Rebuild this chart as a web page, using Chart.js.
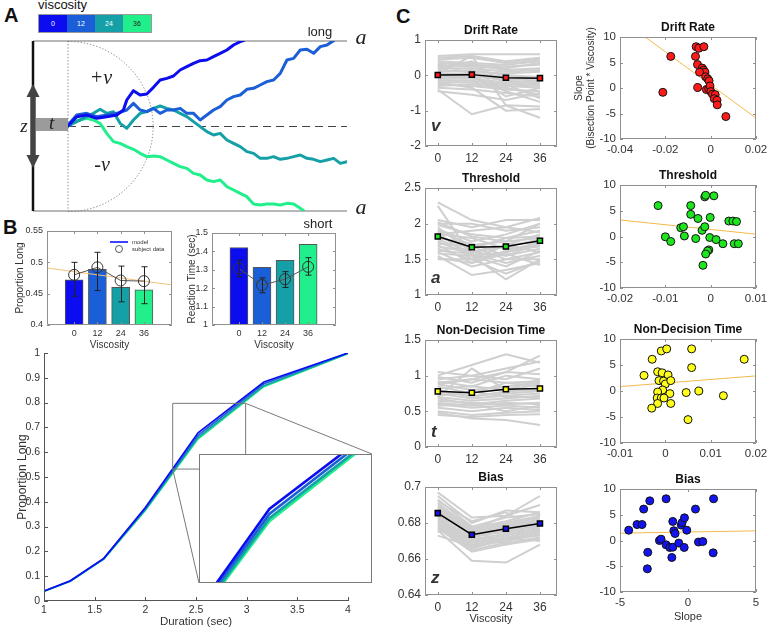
<!DOCTYPE html>
<html><head><meta charset="utf-8">
<script src="https://cdn.jsdelivr.net/npm/chart.js@4.4.0/dist/chart.umd.min.js"></script>
<style>
body{margin:0;background:#fff;}
#fig{position:relative;width:769px;height:633px;overflow:hidden;font-family:"Liberation Sans",Arial,Helvetica,sans-serif;color:#111;}
#fig canvas{position:absolute;}
.plet{position:absolute;font-weight:bold;font-size:20px;line-height:20px;}
#vlab{position:absolute;left:38px;top:-2px;font-size:13px;line-height:14px;}
#vbar{position:absolute;left:38px;top:14px;width:114px;height:19px;display:flex;border:1px solid #999;box-sizing:border-box;}
#vbar div{flex:1;font-size:7px;display:flex;align-items:center;justify-content:center;}
</style></head>
<body><div id="fig">
<div class="plet" style="left:4px;top:5px;">A</div>
<div class="plet" style="left:3px;top:217px;">B</div>
<div class="plet" style="left:396px;top:6px;">C</div>
<div id="vlab">viscosity</div>
<div id="vbar"></div>
</div>
<script>
// ================= DATA =================
const viscosity = [0, 12, 24, 36];
const viscosityColors = ['#0c0cf0', '#1b5fd8', '#14a0a6', '#20ef8c'];

// Panel A: example evidence-accumulation paths (time units, evidence units)
const boundary = 255;
const walkT0  = [0,26,56,86,116,146,166,176,196,216,236,256,276,296,316,336,356,376,396,416,436,456,476,496,516,526];
const walkE0  = [0,28,33,23,28,33,48,78,106,93,96,116,138,143,150,168,178,188,196,198,208,218,228,243,253,256];
const walkT12 = [0,26,56,86,116,146,176,196,216,236,256,276,296,316,336,356,376,396,416,436,456,476,496,516,536,556,576,596,616,636,656,676,696,716,736,756,776,796];
const walkE12 = [3,33,38,28,33,38,48,68,48,43,53,38,48,48,53,38,38,18,33,48,58,78,88,93,110,113,123,133,138,158,198,203,228,230,218,238,243,256];
const walkT24 = [0,26,56,76,96,116,136,156,176,196,216,236,256,276,296,316,336,356,376,396,416,436,456,476,496,516,536,556,576,596,616,636,656,676,696,716,736,756,776,796,816,836,841];
const walkE24 = [0,13,28,38,50,38,43,8,-7,18,38,43,53,60,53,48,38,28,13,-2,-17,-27,-22,-42,-52,-62,-77,-82,-97,-97,-92,-100,-97,-92,-87,-97,-100,-107,-102,-97,-112,-107,-104];
const walkT36 = [0,26,56,76,96,116,136,156,176,196,216,236,256,276,296,316,336,356,376,396,416,436,456,476,496,516,536,556,576,596,616,636,656,676,696,706];
const walkE36 = [0,16,23,18,8,-22,-47,-52,-62,-70,-82,-92,-90,-92,-102,-112,-122,-127,-142,-147,-162,-167,-162,-182,-192,-202,-212,-234,-237,-234,-234,-237,-232,-234,-247,-254];

// Panel B: proportion long & reaction time by viscosity
const propModel    = [0.472, 0.489, 0.460, 0.456];
const propSubject  = [0.480, 0.492, 0.471, 0.470];
const propErrLow   = [0.446, 0.455, 0.437, 0.434];
const propErrHigh  = [0.500, 0.516, 0.494, 0.493];
const propFit      = {slope: -0.000419, intercept: 0.4851};
const propTicks    = [0.4, 0.45, 0.5, 0.55];
const rtModel      = [1.421, 1.313, 1.352, 1.439];
const rtSubject    = [1.307, 1.217, 1.249, 1.316];
const rtErrLow     = [1.262, 1.175, 1.204, 1.271];
const rtErrHigh    = [1.352, 1.256, 1.290, 1.366];
const rtTicks      = [1, 1.1, 1.2, 1.3, 1.4, 1.5];

// Panel B: psychometric functions
const durations = [1, 1.26, 1.59, 2.0, 2.52, 3.17, 4.0];
const pLong0  = [0.040, 0.082, 0.172, 0.377, 0.678, 0.883, 1.000];
const pLong12 = [0.040, 0.081, 0.171, 0.373, 0.668, 0.876, 1.000];
const pLong24 = [0.039, 0.080, 0.170, 0.368, 0.659, 0.868, 0.998];
const pLong36 = [0.038, 0.079, 0.169, 0.365, 0.653, 0.864, 0.997];
const durTicks = [1, 1.5, 2, 2.5, 3, 3.5, 4];
const pTicks = [0, 0.1, 0.2, 0.3, 0.4, 0.5, 0.6, 0.7, 0.8, 0.9, 1];
const zoomRegion = {x: [2.27, 2.99], y: [0.532, 0.797]};
const insetRange = {x: [2.17, 3.03], y: [0.526, 0.791]};

// Panel C: per-subject parameters by viscosity (0,12,24,36)
const driftSubjects = [[0.55,0.6,0.6,0.6],[0.5,0.55,0.4,0.5],[0.45,0.5,0.35,0.45],[0.4,0.35,0.3,0.4],[0.35,0.3,0.25,0.3],[0.3,0.25,0.2,0.35],[0.25,0.3,0.15,0.2],[0.2,0.2,0.1,0.15],[0.15,0.1,0.05,0.1],[0.1,0.15,0.0,-0.05],[0.05,0.05,-0.05,-0.1],[0.0,-0.05,-0.1,-0.15],[-0.05,0.0,-0.15,-0.2],[-0.1,-0.1,-0.2,-0.25],[-0.15,-0.15,-0.25,-0.3],[-0.2,-0.2,-0.3,-0.35],[-0.25,-0.3,-0.4,-0.45],[-0.3,-0.25,-0.35,-0.55],[-0.35,-0.4,-0.5,-0.6],[-0.4,-1.1,-0.85,-0.88],[-0.45,-0.55,-0.7,-0.5],[0.05,0.55,-0.85,-1.2],[-0.2,-0.35,-1.0,-0.95],[0.3,0.05,-0.6,-0.35],[0.2,0.4,-0.25,-0.65],[-0.1,-0.05,-0.45,-0.75]];
const driftMean = [0.01, 0.02, -0.07, -0.08];
const driftTicks = [-2, -1, 0, 1];
const thresholdSubjects = [[2.3,2.05,1.95,2.08],[2.25,1.55,1.22,1.5],[2.05,1.95,2.05,2.05],[2.0,2.0,1.9,1.95],[1.98,1.85,1.8,1.9],[1.95,1.6,1.7,1.85],[1.92,1.75,1.85,2.0],[1.9,1.7,1.75,1.8],[1.88,1.5,1.6,1.75],[1.85,1.8,1.65,1.7],[1.82,1.65,1.8,1.82],[1.8,1.72,1.55,1.65],[1.78,1.6,1.68,1.78],[1.75,1.55,1.6,1.7],[1.72,1.68,1.5,1.6],[1.7,1.45,1.62,1.68],[1.68,1.6,1.55,1.72],[1.65,1.5,1.7,1.6],[1.62,1.58,1.45,1.55],[1.6,1.4,1.5,1.5],[1.58,1.55,1.4,1.62],[1.55,1.28,1.35,1.45],[1.52,1.45,1.58,1.42],[1.5,1.5,1.3,1.48],[1.85,1.9,1.95,1.88],[2.02,1.82,1.75,2.0]];
const thresholdMean = [1.82, 1.67, 1.68, 1.76];
const thresholdTicks = [1, 1.5, 2, 2.5];
const ndtSubjects = [[1.05,1.0,1.1,1.2],[1.0,1.15,1.3,1.18],[0.98,0.9,1.05,1.28],[0.95,1.0,0.95,1.1],[0.92,0.85,1.0,0.95],[0.9,0.95,0.9,0.92],[0.88,0.8,0.85,0.9],[0.85,0.75,0.9,0.85],[0.82,0.85,0.8,0.88],[0.8,0.7,0.78,0.8],[0.78,0.72,0.75,0.78],[0.75,0.68,0.72,0.75],[0.72,0.78,0.7,0.7],[0.7,0.65,0.68,0.72],[0.68,0.6,0.65,0.68],[0.65,0.62,0.6,0.62],[0.62,0.58,0.62,0.6],[0.6,0.55,0.58,0.55],[0.58,0.6,0.5,0.58],[0.55,0.5,0.55,0.52],[0.5,0.45,0.48,0.5],[0.45,0.42,0.45,0.46],[0.48,0.4,0.38,0.31],[0.88,0.95,1.05,1.02],[0.7,1.1,0.8,0.95]];
const ndtMean = [0.78, 0.76, 0.81, 0.82];
const ndtTicks = [0, 0.5, 1, 1.5];
const biasSubjects = [[0.697,0.683,0.684,0.695],[0.695,0.68,0.687,0.686],[0.693,0.678,0.683,0.685],[0.691,0.677,0.681,0.686],[0.69,0.676,0.68,0.684],[0.689,0.675,0.679,0.683],[0.688,0.674,0.678,0.682],[0.687,0.673,0.677,0.681],[0.686,0.672,0.676,0.68],[0.685,0.673,0.675,0.679],[0.684,0.671,0.674,0.678],[0.683,0.67,0.673,0.677],[0.682,0.669,0.672,0.676],[0.681,0.668,0.671,0.675],[0.68,0.667,0.67,0.674],[0.679,0.666,0.671,0.673],[0.678,0.665,0.669,0.672],[0.677,0.664,0.668,0.671],[0.676,0.659,0.658,0.668],[0.673,0.667,0.672,0.67],[0.675,0.677,0.668,0.685],[0.692,0.681,0.686,0.675],[0.684,0.676,0.684,0.69]];
const biasMean = [0.6855, 0.6735, 0.6768, 0.6797];
const biasTicks = [0.64, 0.66, 0.68, 0.7];

// Panel C: slope (bisection point * viscosity) vs parameter slope
const slopeTicksY = [-10, -5, 0, 5, 10];
const driftSlopeX = [-0.0176,-0.0211,-0.0064,-0.0052,-0.003,-0.0067,-0.0058,-0.0037,-0.0031,-0.0025,-0.0049,-0.0022,-0.0013,-0.0007,-0.0057,-0.0019,-0.0009,-0.0003,0.0001,0.0008,0.002,0.0016,0.0028,0.0029,0.0067];
const driftSlopeY = [6.2,-0.85,8.1,7.8,8.1,6.2,4.6,3.9,3.5,3.1,3.1,2.2,1.8,1.4,0.1,-0.3,-0.1,0.4,-0.7,-1.2,-1.3,-2.1,-2.4,-3.3,-5.6];
const driftFit = {slope: -325, intercept: 0.61};
const driftSlopeTicks = [-0.04, -0.02, 0, 0.02];
const thresholdSlopeX = [-0.0116,-0.01,-0.0088,-0.0044,-0.0044,-0.0058,-0.0066,-0.006,-0.0028,-0.0033,-0.0019,-0.0013,-0.0013,-0.0011,0.0007,-0.0001,-0.0002,-0.0004,-0.0007,-0.0011,-0.0017,0.0012,0.0027,0.004,0.0049,0.0057,0.0052,0.0061];
const thresholdSlopeY = [6.0,-0.06,-0.97,6.0,4.3,0.1,1.7,1.9,3.5,-0.4,1.2,1.9,7.7,8.0,7.9,3.7,-0.2,-2.6,-2.8,-3.4,-5.6,-0.6,-1.4,3.0,3.0,2.9,-1.4,-1.4];
const thresholdFit = {slope: -91.7, intercept: 1.37};
const thresholdSlopeTicks = [-0.02, -0.01, 0, 0.01];
const ndtSlopeX = [-0.0047,-0.0029,-0.0009,0.0003,-0.0017,-0.0007,0.0006,-0.0014,-0.0004,0.0,0.0012,-0.0006,-0.0017,0.001,-0.0018,-0.0009,-0.0003,-0.0017,0.0012,-0.003,0.0058,0.0058,0.0046,0.0074,0.005,0.0128,0.0174];
const ndtSlopeY = [3.0,6.1,7.7,8.1,3.7,3.5,3.1,2.0,1.9,1.35,2.0,0.2,-0.2,-0.5,-1.35,-1.35,-1.35,-2.4,-2.4,-3.3,8.1,4.5,-0.3,0.0,-5.5,-0.9,6.1];
const ndtFit = {slope: 68.7, intercept: 1.53};
const ndtSlopeTicks = [-0.01, 0, 0.01, 0.02];
const biasSlopeX = [-4.36,-3.75,-3.38,-3.26,-2.81,-2.96,-2.99,-2.1,-1.98,-1.61,-1.61,-1.34,-1.12,-1.04,-0.95,-1.12,-1.19,-0.68,-0.5,-0.43,-0.26,-0.28,-0.09,0.55,0.77,1.09,1.88,1.85];
const biasSlopeY = [2.0,3.1,3.1,6.1,7.7,-2.3,-5.5,0.0,0.26,8.1,-0.84,-1.35,3.7,1.9,1.35,-1.3,-3.3,-0.5,3.0,3.5,4.4,-1.35,2.0,6.1,-0.3,-0.2,8.1,-2.4];
const biasFit = {slope: 0.045, intercept: 1.65};
const biasSlopeTicks = [-5, 0, 5];

// ================= LAYOUT (pixels) =================
const L = {
  A: {l:33, t:41, r:347, b:211},
  bar1: {l:47, t:231, r:172, b:325},
  bar2: {l:212, t:233, r:336, b:325},
  psy: {l:44, t:353, r:348, b:601},
  inset: {l:199, t:454, r:372, b:583},
  cl: {l:425, r:557, t:[40,188,340,487], b:[146,295,447,595]},
  cr: {l:620, r:756, t:[37,185,339,489], b:[139,288,443,592]}
};

// ================= HELPERS =================
const FONT = '"Liberation Sans", Arial, Helvetica, sans-serif';
Chart.defaults.font.family = FONT;
Chart.defaults.color = '#333';
const fig = document.getElementById('fig');
const fmt = v => String(Math.round(v * 1e6) / 1e6);
const xy = (xs, ys) => xs.map((x, i) => ({x, y: ys[i]}));
const fitLine = (f, x0, x1) => [{x:x0, y:f.intercept + f.slope*x0}, {x:x1, y:f.intercept + f.slope*x1}];

// legend bar (viscosity)
const vbar = document.getElementById('vbar');
viscosity.forEach((v, i) => {
  const d = document.createElement('div');
  d.style.background = viscosityColors[i];
  d.style.color = i === 3 ? '#222' : '#fff';
  d.textContent = v;
  vbar.appendChild(d);
});

function makeCanvas(x, y, w, h) {
  const c = document.createElement('canvas');
  c.width = w; c.height = h;
  Object.assign(c.style, {left: x + 'px', top: y + 'px', width: w + 'px', height: h + 'px'});
  fig.appendChild(c);
  return c;
}
function linAxis(min, max, tickVals, o) {
  const ax = {type: 'linear', min, max, offset: false,
    afterBuildTicks: s => { s.ticks = tickVals.map(v => ({value: v})); },
    ticks: {callback: v => fmt(v), font: {size: o.size}, color: '#333', padding: o.pad, autoSkip: false, maxRotation: 0, minRotation: 0},
    grid: {display: false, drawTicks: false}, border: {display: false}};
  if (o.title) ax.title = {display: true, text: o.title, font: {size: o.tsize}, color: '#333', padding: {top: o.tpad, bottom: o.tpad}};
  return ax;
}
function framed(plot, pad, cfg) {
  const W = plot.r - plot.l + pad.l + pad.r, H = plot.b - plot.t + pad.t + pad.b;
  const cv = makeCanvas(plot.l - pad.l, plot.t - pad.t, W, H);
  const o = cfg.options;
  o.responsive = false; o.animation = false; o.maintainAspectRatio = false;
  o.layout = {padding: {left: 0, top: pad.t, right: pad.r, bottom: 0}};
  o.plugins = Object.assign({legend: {display: false}, tooltip: {enabled: false}}, o.plugins || {});
  o.scales.x.afterFit = s => { s.height = pad.b; s.paddingLeft = 0; s.paddingRight = 0; };
  o.scales.y.afterFit = s => { s.width = pad.l; s.paddingTop = 0; s.paddingBottom = 0; };
  return new Chart(cv, cfg);
}
function deco(opts) {
  return {id: 'deco', afterDraw(chart) {
    const {ctx, chartArea: a, scales: {x, y}} = chart;
    ctx.save();
    ctx.strokeStyle = opts.color || '#8f8f8f'; ctx.lineWidth = 1;
    const tl = opts.tick || 3;
    ctx.beginPath();
    if (opts.box) {
      ctx.rect(a.left + 0.5, a.top + 0.5, a.right - a.left - 1, a.bottom - a.top - 1);
    } else {
      ctx.moveTo(a.left + 0.5, a.top); ctx.lineTo(a.left + 0.5, a.bottom - 0.5); ctx.lineTo(a.right, a.bottom - 0.5);
    }
    x.ticks.forEach(t => {
      const p = Math.round(x.getPixelForValue(t.value)) + 0.5;
      ctx.moveTo(p, a.bottom); ctx.lineTo(p, a.bottom - tl);
      if (opts.box) { ctx.moveTo(p, a.top); ctx.lineTo(p, a.top + tl); }
    });
    y.ticks.forEach(t => {
      const p = Math.round(y.getPixelForValue(t.value)) + 0.5;
      ctx.moveTo(a.left, p); ctx.lineTo(a.left + tl, p);
      if (opts.box) { ctx.moveTo(a.right, p); ctx.lineTo(a.right - tl, p); }
    });
    ctx.stroke();
    if (opts.title) {
      ctx.fillStyle = '#111'; ctx.font = 'bold 12px ' + FONT; ctx.textAlign = 'center'; ctx.textBaseline = 'bottom';
      ctx.fillText(opts.title, (a.left + a.right) / 2, a.top - 3);
    }
    if (opts.letter) {
      ctx.fillStyle = '#333'; ctx.font = 'italic bold 17px ' + FONT; ctx.textAlign = 'left'; ctx.textBaseline = 'alphabetic';
      ctx.fillText(opts.letter, a.left + 6, a.bottom - opts.letterLift);
    }
    ctx.restore();
  }};
}
function errorBars(xs, lo, hi) {
  return {id: 'err', afterDatasetsDraw(chart) {
    const {ctx, scales: {x, y}} = chart;
    ctx.save(); ctx.strokeStyle = '#222'; ctx.lineWidth = 1; ctx.beginPath();
    xs.forEach((v, i) => {
      const p = Math.round(x.getPixelForValue(v)) + 0.5, y1 = y.getPixelForValue(lo[i]), y2 = y.getPixelForValue(hi[i]);
      ctx.moveTo(p, y1); ctx.lineTo(p, y2);
      ctx.moveTo(p - 3, y1); ctx.lineTo(p + 3, y1);
      ctx.moveTo(p - 3, y2); ctx.lineTo(p + 3, y2);
    });
    ctx.stroke(); ctx.restore();
  }};
}

// ================= PANEL A =================
const walks = [[walkT36, walkE36, 3], [walkT24, walkE24, 2], [walkT12, walkE12, 1], [walkT0, walkE0, 0]];
const panelADeco = {
  id: 'aDeco',
  beforeDatasetsDraw(chart) {
    const {ctx, chartArea: a, scales: {x, y}} = chart;
    const X0 = x.getPixelForValue(0), Y0 = Math.round(y.getPixelForValue(0)) + 0.5;
    const top = y.getPixelForValue(boundary), bot = y.getPixelForValue(-boundary);
    ctx.save();
    ctx.strokeStyle = '#a0a0a0'; ctx.lineWidth = 1.3;
    ctx.beginPath(); ctx.moveTo(a.left, top); ctx.lineTo(a.right, top); ctx.moveTo(a.left, bot); ctx.lineTo(a.right, bot); ctx.stroke();
    ctx.strokeStyle = '#444'; ctx.lineWidth = 1; ctx.setLineDash([8, 5]);
    ctx.beginPath(); ctx.moveTo(X0, Y0); ctx.lineTo(a.right, Y0); ctx.stroke();
    ctx.strokeStyle = '#777'; ctx.setLineDash([1.2, 2]);
    ctx.beginPath(); ctx.moveTo(X0, top); ctx.lineTo(X0, bot); ctx.stroke();
    const r = x.getPixelForValue(boundary) - X0;
    ctx.beginPath(); ctx.arc(X0, Y0, r, -Math.PI / 2, Math.PI / 2); ctx.stroke();
    ctx.restore();
  },
  afterDatasetsDraw(chart) {
    const {ctx, chartArea: a, scales: {x, y}} = chart;
    const X0 = x.getPixelForValue(0), Y0 = y.getPixelForValue(0);
    const top = y.getPixelForValue(boundary), bot = y.getPixelForValue(-boundary);
    ctx.save();
    ctx.strokeStyle = '#111'; ctx.lineWidth = 2.5;
    ctx.beginPath(); ctx.moveTo(a.left, top); ctx.lineTo(a.left, bot); ctx.stroke();
    ctx.strokeStyle = '#444'; ctx.fillStyle = '#444'; ctx.lineWidth = 5.5;
    ctx.beginPath(); ctx.moveTo(a.left, Y0 - 30); ctx.lineTo(a.left, Y0 + 30); ctx.stroke();
    ctx.beginPath(); ctx.moveTo(a.left, Y0 - 42); ctx.lineTo(a.left - 6.5, Y0 - 29); ctx.lineTo(a.left + 6.5, Y0 - 29); ctx.closePath(); ctx.fill();
    ctx.beginPath(); ctx.moveTo(a.left, Y0 + 42); ctx.lineTo(a.left - 6.5, Y0 + 29); ctx.lineTo(a.left + 6.5, Y0 + 29); ctx.closePath(); ctx.fill();
    ctx.fillStyle = '#9b9b9b'; ctx.fillRect(a.left + 3, Y0 - 8, X0 - a.left - 3, 13);
    ctx.fillStyle = '#222'; ctx.textAlign = 'center'; ctx.textBaseline = 'middle';
    ctx.font = 'italic 19px "Liberation Serif", "DejaVu Serif", serif';
    ctx.fillText('z', a.left - 9, Y0 + 1);
    ctx.fillText('t', (a.left + X0) / 2 + 1, Y0 - 2);
    ctx.font = 'italic 20px "Liberation Serif", "DejaVu Serif", serif';
    ctx.fillText('+v', X0 + 33, Y0 - 47);
    ctx.fillText('-v', X0 + 34, Y0 + 40);
    ctx.font = 'italic 22px "Liberation Serif", "DejaVu Serif", serif';
    ctx.fillText('a', a.right + 14, top - 3);
    ctx.fillText('a', a.right + 14, bot - 3);
    ctx.font = '13px ' + FONT;
    ctx.fillText('long', a.right - 27, top - 9);
    ctx.fillText('short', a.right - 29, bot + 13);
    ctx.restore();
  }
};
new Chart(makeCanvas(0, 0, 380, 232), {
  type: 'scatter',
  data: {datasets: walks.map(([t, e, i]) => ({
    data: xy(t, e), showLine: true, pointRadius: 0, borderWidth: 3,
    borderColor: viscosityColors[i], borderJoinStyle: 'round', borderCapStyle: 'round', order: i
  }))},
  options: {responsive: false, animation: false,
    layout: {padding: {left: L.A.l, top: L.A.t, right: 380 - L.A.r, bottom: 232 - L.A.b}},
    scales: {x: {type: 'linear', min: -105, max: 836, display: false}, y: {type: 'linear', min: -boundary, max: boundary, display: false}},
    plugins: {legend: {display: false}, tooltip: {enabled: false}}},
  plugins: [panelADeco]
});

// ================= PANEL B: bars =================
const barLegend = {id: 'blg', afterDraw(chart) {
  const {ctx, chartArea: a} = chart;
  ctx.save();
  ctx.strokeStyle = '#0000ff'; ctx.lineWidth = 1.5;
  ctx.beginPath(); ctx.moveTo(a.left + 63, a.top + 11); ctx.lineTo(a.left + 81, a.top + 11); ctx.stroke();
  ctx.strokeStyle = '#333'; ctx.lineWidth = 0.8;
  ctx.beginPath(); ctx.arc(a.left + 72, a.top + 18, 3.5, 0, Math.PI * 2); ctx.stroke();
  ctx.fillStyle = '#333'; ctx.font = '6px ' + FONT; ctx.textAlign = 'left'; ctx.textBaseline = 'middle';
  ctx.fillText('model', a.left + 85, a.top + 11);
  ctx.fillText('subject data', a.left + 85, a.top + 18);
  ctx.restore();
}};
function barChart(plot, pad, model, subj, lo, hi, yMin, yMax, ticks, ytitle, ytpad, extraSets, extraPlugins) {
  return framed(plot, pad, {
    type: 'bar',
    data: {datasets: [
      {type: 'line', data: xy(viscosity, subj), borderColor: '#555', borderWidth: 1, pointRadius: 5.5, pointStyle: 'circle',
       pointBorderColor: '#333', pointBackgroundColor: 'rgba(0,0,0,0)', pointBorderWidth: 1, order: 0},
      ...extraSets,
      {type: 'bar', data: xy(viscosity, model), backgroundColor: viscosityColors, borderColor: '#555', borderWidth: 1, barThickness: 18, order: 3}
    ]},
    options: {scales: {
      x: linAxis(-14, 50.5, viscosity, {size: 9, pad: 3, title: 'Viscosity', tsize: 10, tpad: 2}),
      y: linAxis(yMin, yMax, ticks, {size: 9, pad: 4, title: ytitle, tsize: 10, tpad: ytpad})
    }},
    plugins: [deco({box: true}), errorBars(viscosity, lo, hi), ...extraPlugins]
  });
}
barChart(L.bar1, {l: 40, t: 8, r: 8, b: 28}, propModel, propSubject, propErrLow, propErrHigh, 0.4, 0.55, propTicks,
  'Proportion Long', 7.5,
  [{type: 'line', data: fitLine(propFit, -14, 50.5), borderColor: '#f2c27c', borderWidth: 1, pointRadius: 0, order: 1}],
  [barLegend]);
barChart(L.bar2, {l: 34, t: 8, r: 8, b: 28}, rtModel, rtSubject, rtErrLow, rtErrHigh, 1, 1.5, rtTicks,
  'Reaction Time (sec)', 8.5, [], []);

// ================= PANEL B: psychometric =================
const psySeries = [[pLong36, 3], [pLong24, 2], [pLong12, 1], [pLong0, 0]];
const psySets = w => psySeries.map(([p, i]) => ({data: xy(durations, p), showLine: true, pointRadius: 0,
  borderWidth: w, borderColor: viscosityColors[i], order: i}));
const psyPad = {l: 40, t: 8, r: 30, b: 32};
const psyOrigin = {x: L.psy.l - psyPad.l, y: L.psy.t - psyPad.t};
const zoomDeco = {id: 'zoomDeco', afterDraw(chart) {
  const {ctx, scales: {x, y}} = chart;
  const x1 = x.getPixelForValue(zoomRegion.x[0]), x2 = x.getPixelForValue(zoomRegion.x[1]);
  const y1 = y.getPixelForValue(zoomRegion.y[0]), y2 = y.getPixelForValue(zoomRegion.y[1]);
  ctx.save(); ctx.strokeStyle = '#7a7a7a'; ctx.lineWidth = 1;
  ctx.beginPath(); ctx.rect(x1, y2, x2 - x1, y1 - y2);
  ctx.moveTo(x2, y2); ctx.lineTo(L.inset.r - psyOrigin.x, L.inset.t - psyOrigin.y);
  ctx.moveTo(x1, y1); ctx.lineTo(L.inset.l - psyOrigin.x, L.inset.b - psyOrigin.y);
  ctx.stroke(); ctx.restore();
}};
framed(L.psy, psyPad, {
  type: 'scatter',
  data: {datasets: psySets(1.6)},
  options: {scales: {
    x: linAxis(1, 4, durTicks, {size: 10.5, pad: 3, title: 'Duration (sec)', tsize: 11.5, tpad: 4}),
    y: linAxis(0, 1, pTicks, {size: 10.5, pad: 4, title: 'Proportion Long', tsize: 12, tpad: 11.3})
  }},
  plugins: [deco({box: false, color: '#555', tick: 4}), zoomDeco]
});
const insetW = L.inset.r - L.inset.l, insetH = L.inset.b - L.inset.t;
new Chart(makeCanvas(L.inset.l, L.inset.t, insetW, insetH), {
  type: 'scatter',
  data: {datasets: psySets(2.6)},
  options: {responsive: false, animation: false, layout: {padding: 0},
    scales: {x: {type: 'linear', min: insetRange.x[0], max: insetRange.x[1], display: false},
             y: {type: 'linear', min: insetRange.y[0], max: insetRange.y[1], display: false}},
    plugins: {legend: {display: false}, tooltip: {enabled: false}}},
  plugins: [{id: 'insetFrame',
    beforeDraw(c) { c.ctx.save(); c.ctx.fillStyle = '#fff'; c.ctx.fillRect(0, 0, c.width, c.height); c.ctx.restore(); },
    afterDraw(c) { c.ctx.save(); c.ctx.strokeStyle = '#7a7a7a'; c.ctx.lineWidth = 1; c.ctx.strokeRect(0.5, 0.5, c.width - 1, c.height - 1); c.ctx.restore(); }}]
});

// ================= PANEL C =================
const cPanels = [
  {title: 'Drift Rate', letter: 'v', lift: 15, subjects: driftSubjects, mean: driftMean, yr: [-2, 1], yt: driftTicks, color: '#ff1a1a',
   sx: driftSlopeX, sy: driftSlopeY, fit: driftFit, xr: [-0.04, 0.02], xt: driftSlopeTicks},
  {title: 'Threshold', letter: 'a', lift: 12, subjects: thresholdSubjects, mean: thresholdMean, yr: [1, 2.5], yt: thresholdTicks, color: '#1ee61e',
   sx: thresholdSlopeX, sy: thresholdSlopeY, fit: thresholdFit, xr: [-0.02, 0.01], xt: thresholdSlopeTicks},
  {title: 'Non-Decision Time', letter: 't', lift: 10, subjects: ndtSubjects, mean: ndtMean, yr: [0, 1.5], yt: ndtTicks, color: '#ffff1a',
   sx: ndtSlopeX, sy: ndtSlopeY, fit: ndtFit, xr: [-0.01, 0.02], xt: ndtSlopeTicks},
  {title: 'Bias', letter: 'z', lift: 12, subjects: biasSubjects, mean: biasMean, yr: [0.64, 0.7], yt: biasTicks, color: '#1414f0',
   sx: biasSlopeX, sy: biasSlopeY, fit: biasFit, xr: [-5, 5], xt: biasSlopeTicks}
];
cPanels.forEach((p, k) => {
  const last = k === 3, first = k === 0;
  // parameter by viscosity
  const gray = p.subjects.map(s => ({data: xy(viscosity, s), showLine: true, pointRadius: 0, borderWidth: 2, borderColor: '#cfcfcf', order: 2}));
  framed({l: L.cl.l, r: L.cl.r, t: L.cl.t[k], b: L.cl.b[k]}, {l: 40, t: 16, r: 10, b: last ? 36 : 20}, {
    type: 'scatter',
    data: {datasets: [...gray,
      {data: xy(viscosity, p.mean), showLine: true, borderColor: '#000', borderWidth: 1.5, pointStyle: 'rect', pointRadius: 3.6,
       pointBackgroundColor: p.color, pointBorderColor: '#000', pointBorderWidth: 1.5, order: 0}]},
    options: {scales: {
      x: linAxis(-4.5, 42, viscosity, last ? {size: 12, pad: 5, title: 'Viscosity', tsize: 11, tpad: 5} : {size: 12, pad: 5}),
      y: linAxis(p.yr[0], p.yr[1], p.yt, {size: 12, pad: 4})
    }},
    plugins: [deco({box: true, title: p.title, letter: p.letter, letterLift: p.lift})]
  });
  // slope scatter
  let yo = {size: 11.5, pad: 4};
  if (first) yo = {size: 11.5, pad: 4, title: ['Slope', '(Bisection Point * Viscosity)'], tsize: 10, tpad: 1};
  framed({l: L.cr.l, r: L.cr.r, t: L.cr.t[k], b: L.cr.b[k]}, {l: 48, t: 16, r: 13, b: last ? 36 : 20}, {
    type: 'scatter',
    data: {datasets: [
      {data: xy(p.sx, p.sy), pointRadius: 4, pointBackgroundColor: p.color, pointBorderColor: '#111', pointBorderWidth: 1, order: 0},
      {data: fitLine(p.fit, p.xr[0], p.xr[1]), showLine: true, pointRadius: 0, borderColor: '#f4b94a', borderWidth: 1, order: 1}
    ]},
    options: {scales: {
      x: linAxis(p.xr[0], p.xr[1], p.xt, last ? {size: 11.5, pad: 4, title: 'Slope', tsize: 11, tpad: 4.4} : {size: 11.5, pad: 4}),
      y: linAxis(-10, 10, slopeTicksY, yo)
    }},
    plugins: [deco({box: true, title: p.title})]
  });
});
</script>
</body></html>
